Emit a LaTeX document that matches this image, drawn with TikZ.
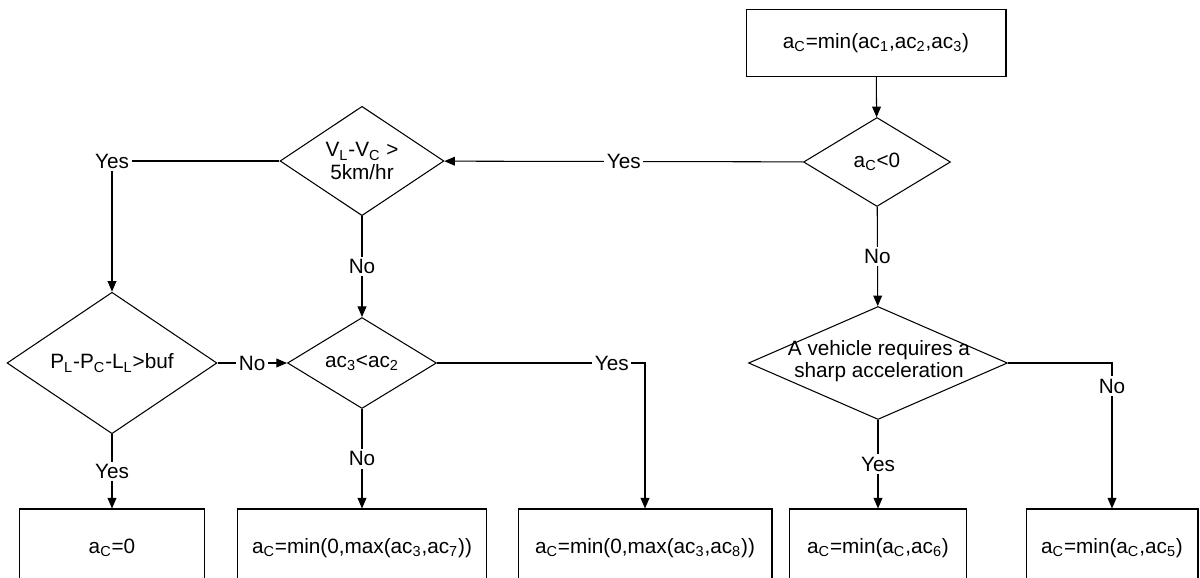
\documentclass[tikz,border=0pt]{standalone}
\usepackage{fontspec}
\setmainfont{Liberation Sans}
\usetikzlibrary{arrows.meta,shapes.geometric}
\newcommand{\sbs}[1]{\textsubscript{#1}}

\begin{document}
\begin{tikzpicture}[x=0.02cm,y=-0.02cm,>={Triangle[length=6pt,width=5pt]},
  line width=0.6pt,font=\fontsize{11.8}{12.6}\selectfont,
  box/.style={draw,minimum height=1.56cm,inner sep=2pt},
  dec/.style={draw,diamond,inner sep=0pt,align=center},
  lbl/.style={fill=white,inner sep=1.5pt}]
\useasboundingbox (0,0) rectangle (1200,578);
% top of the chart
\node[box,minimum width=5.2cm,minimum height=1.34cm] (start) at (876,43) {a\sbs{C}=min(ac\sbs{1},ac\sbs{2},ac\sbs{3})};
\node[dec,minimum width=2.94cm,minimum height=1.78cm] (neg) at (877,162) {a\sbs{C}<0};
\node[dec,minimum width=3.28cm,minimum height=1.94cm] (vdiff) at (362,161) {V\sbs{L}-V\sbs{C} >\\5km/hr};
% middle row
\node[dec,minimum width=4.2cm,minimum height=1.8cm] (gap) at (112,363) {P\sbs{L}-P\sbs{C}-L\sbs{L}>buf};
\node[dec,minimum width=2.98cm,minimum height=1.82cm] (cmp) at (362,363) {ac\sbs{3}<ac\sbs{2}};
\node[dec,minimum width=5.18cm,minimum height=2.26cm] (veh) at (878,363) {};
\node[align=center,inner sep=0pt] (vehtext) at (879,361) {A vehicle requires a\\sharp acceleration};
% results
\node[box,minimum width=3.7cm] (res0) at (112,548) {a\sbs{C}=0};
\node[box,minimum width=4.98cm] (res7) at (362,548) {a\sbs{C}=min(0,max(ac\sbs{3},ac\sbs{7}))};
\node[box,minimum width=5.08cm] (res8) at (645,548) {a\sbs{C}=min(0,max(ac\sbs{3},ac\sbs{8}))};
\node[box,minimum width=3.54cm] (res6) at (878,548) {a\sbs{C}=min(a\sbs{C},ac\sbs{6})};
\node[box,minimum width=3.44cm] (res5) at (1112,548) {a\sbs{C}=min(a\sbs{C},ac\sbs{5})};

\draw[->] (start)--(neg);
\draw[->] (neg)--node[lbl]{Yes}(vdiff);
\draw[->] (vdiff)-|node[lbl]{Yes}(gap);
\draw[->] (vdiff)--node[lbl]{No}(cmp);
\draw[->] (gap)--node[lbl]{No}(cmp);
\draw[->] (gap)--node[lbl]{Yes}(res0);
\draw[->] (cmp)--node[lbl]{No}(res7);
\draw[->] (cmp.east)-|node[lbl,pos=0.42]{Yes}(res8.north);
\draw[->] (neg)--node[lbl]{No}(veh);
\draw[->] (veh)--node[lbl]{Yes}(res6);
\draw[->] (veh.east)-|node[lbl,pos=0.58]{No}(res5.north);
\end{tikzpicture}
\end{document}
